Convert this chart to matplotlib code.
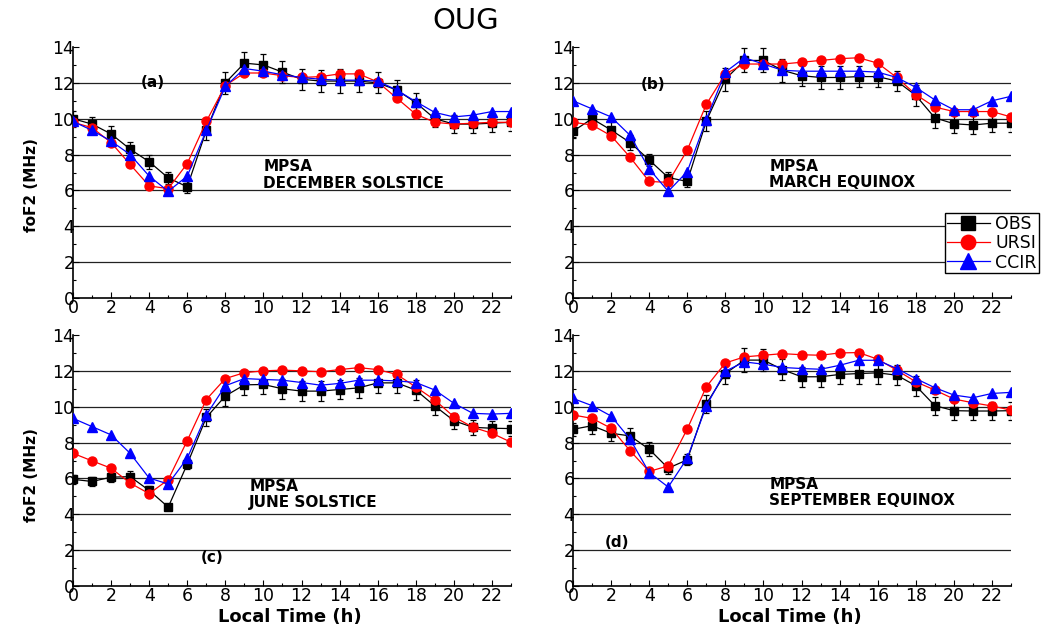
import numpy as np
import matplotlib
matplotlib.use("Agg")
import matplotlib.pyplot as plt
from matplotlib.ticker import MultipleLocator

plt.rcParams["font.family"] = ["DejaVu Sans"]

hours = list(range(24))

# panel (a) December solstice
dec_obs = [10.0, 9.7, 9.15, 8.3, 7.6, 6.7, 6.2, 9.35, 12.0, 13.1, 13.0, 12.6,
           12.2, 12.1, 12.1, 12.1, 12.0, 11.6, 10.9, 10.0, 9.7, 9.7, 9.75, 9.8]
dec_err = [0.45, 0.4, 0.45, 0.4, 0.4, 0.35, 0.35, 0.55, 0.6, 0.63, 0.62, 0.63,
           0.6, 0.63, 0.65, 0.63, 0.58, 0.58, 0.55, 0.45, 0.48, 0.47, 0.5, 0.47]
dec_ursi = [9.8, 9.5, 8.67, 7.45, 6.25, 6.1, 7.5, 9.85, 11.85, 12.55, 12.55, 12.4,
            12.3, 12.35, 12.5, 12.5, 12.05, 11.15, 10.25, 9.8, 9.7, 9.75, 9.8, 9.8]
dec_ccir = [9.85, 9.35, 8.75, 8.0, 6.8, 5.95, 6.8, 9.35, 11.8, 12.8, 12.65, 12.45,
            12.3, 12.2, 12.15, 12.15, 12.1, 11.6, 10.95, 10.35, 10.1, 10.2, 10.4, 10.4]

# panel (b) March equinox
mar_obs = [9.3, 10.0, 9.37, 8.67, 7.7, 6.72, 6.5, 9.87, 12.2, 13.25, 13.25, 12.7,
           12.4, 12.3, 12.3, 12.35, 12.35, 12.1, 11.3, 10.05, 9.72, 9.65, 9.75, 9.75]
mar_err = [0.35, 0.4, 0.45, 0.4, 0.35, 0.3, 0.3, 0.55, 0.65, 0.67, 0.67, 0.65,
           0.6, 0.63, 0.63, 0.6, 0.6, 0.58, 0.58, 0.55, 0.5, 0.5, 0.5, 0.48]
mar_ursi = [9.8, 9.65, 9.05, 7.85, 6.5, 6.45, 8.25, 10.8, 12.5, 13.05, 13.05, 13.05,
            13.15, 13.25, 13.35, 13.4, 13.1, 12.3, 11.35, 10.65, 10.4, 10.4, 10.4, 10.1]
mar_ccir = [11.0, 10.55, 10.1, 9.07, 7.2, 5.95, 7.05, 9.95, 12.6, 13.4, 13.05, 12.7,
            12.65, 12.65, 12.65, 12.65, 12.6, 12.3, 11.75, 11.05, 10.5, 10.5, 11.0, 11.25]

# panel (c) June solstice
jun_obs = [5.95, 5.83, 6.07, 6.1, 5.33, 4.4, 6.8, 9.4, 10.6, 11.22, 11.24, 11.0,
           10.87, 10.87, 10.96, 11.05, 11.33, 11.33, 10.93, 10.04, 9.22, 8.85, 8.8, 8.78]
jun_err = [0.25, 0.25, 0.25, 0.3, 0.25, 0.15, 0.3, 0.5, 0.55, 0.55, 0.55, 0.55,
           0.55, 0.55, 0.55, 0.55, 0.55, 0.55, 0.55, 0.5, 0.45, 0.4, 0.4, 0.4]
jun_ursi = [7.4, 6.98, 6.57, 5.74, 5.15, 5.93, 8.11, 10.4, 11.57, 11.9, 12.0, 12.04,
            12.0, 11.95, 12.07, 12.18, 12.07, 11.8, 11.1, 10.37, 9.44, 8.85, 8.52, 8.02]
jun_ccir = [9.35, 8.89, 8.43, 7.4, 6.02, 5.69, 7.13, 9.54, 11.17, 11.57, 11.52, 11.48,
            11.35, 11.2, 11.3, 11.48, 11.48, 11.44, 11.35, 10.93, 10.19, 9.63, 9.59, 9.63]

# panel (d) September equinox
sep_obs = [8.74, 8.94, 8.52, 8.37, 7.63, 6.57, 7.04, 10.15, 11.85, 12.6, 12.6, 12.07,
           11.67, 11.67, 11.8, 11.85, 11.89, 11.76, 11.17, 10.06, 9.78, 9.76, 9.76, 9.78]
sep_err = [0.35, 0.45, 0.45, 0.45, 0.4, 0.3, 0.3, 0.5, 0.6, 0.65, 0.6, 0.6,
           0.55, 0.55, 0.55, 0.6, 0.6, 0.55, 0.55, 0.5, 0.5, 0.5, 0.5, 0.5]
sep_ursi = [9.54, 9.35, 8.8, 7.54, 6.39, 6.7, 8.76, 11.11, 12.44, 12.78, 12.87, 12.96,
            12.9, 12.87, 13.0, 13.02, 12.65, 12.04, 11.39, 10.93, 10.43, 10.22, 10.04, 9.81]
sep_ccir = [10.46, 10.06, 9.48, 8.19, 6.33, 5.52, 7.13, 10.04, 11.98, 12.5, 12.37, 12.19,
            12.13, 12.09, 12.31, 12.59, 12.59, 12.13, 11.57, 11.06, 10.65, 10.5, 10.74, 10.8]

panels = [
    ("(a)", "MPSA\nDECEMBER SOLSTICE", dec_obs, dec_err, dec_ursi, dec_ccir),
    ("(b)", "MPSA\nMARCH EQUINOX", mar_obs, mar_err, mar_ursi, mar_ccir),
    ("(c)", "MPSA\nJUNE SOLSTICE", jun_obs, jun_err, jun_ursi, jun_ccir),
    ("(d)", "MPSA\nSEPTEMBER EQUINOX", sep_obs, sep_err, sep_ursi, sep_ccir),
]
# where the panel letter and season text sit (data coords)
letter_pos = [(4.2, 12.0), (4.2, 11.9), (7.3, 1.6), (2.3, 2.4)]
season_pos = [(10.0, 6.85), (10.3, 6.9), (9.25, 5.1), (10.3, 5.2)]

W, H = 1044, 630
fig = plt.figure(figsize=(W / 100, H / 100), dpi=100)

# axes boxes in pixels: left, right, top (y=14), bottom (y=0)
boxes = [(73, 511, 47, 298), (573, 1011, 47, 298),
         (73, 511, 335, 586), (573, 1011, 335, 586)]

axes = []
handles = []
for (l, r, t, b), (letter, season, obs, err, ursi, ccir), lp, sp in zip(
        boxes, panels, letter_pos, season_pos):
    ax = fig.add_axes([l / W, 1 - b / H, (r - l) / W, (b - t) / H])
    axes.append(ax)
    for yv in range(2, 14, 2):
        ax.axhline(yv, color="#222222", lw=0.9, zorder=0)
    ax.errorbar(hours, obs, yerr=err, fmt="none", ecolor="black",
                elinewidth=0.9, capsize=2.5, capthick=0.9, zorder=3)
    h1, = ax.plot(hours, obs, color="black", marker="s", ms=6, lw=0.9,
                  label="OBS", zorder=3)
    h2, = ax.plot(hours, ursi, color="red", marker="o", ms=6.5, lw=0.9,
                  label="URSI", zorder=4)
    h3, = ax.plot(hours, ccir, color="blue", marker="^", ms=7, lw=0.9,
                  label="CCIR", zorder=5)
    handles = [h1, h2, h3]
    ax.set_xlim(0, 23)
    ax.set_ylim(0, 14)
    ax.xaxis.set_major_locator(MultipleLocator(2))
    ax.xaxis.set_minor_locator(MultipleLocator(1))
    ax.yaxis.set_major_locator(MultipleLocator(2))
    ax.yaxis.set_minor_locator(MultipleLocator(1))
    ax.tick_params(which="both", direction="in", labelsize=12.5)
    ax.tick_params(which="major", length=4, width=0.8)
    ax.tick_params(which="minor", length=2, width=0.8)
    ax.tick_params(axis="y", pad=-1)
    ax.tick_params(axis="x", pad=1)
    for s in ("top", "right"):
        ax.spines[s].set_visible(False)
    ax.spines["left"].set_linewidth(1.2)
    ax.spines["bottom"].set_linewidth(1.2)
    ax.text(lp[0], lp[1], letter, fontsize=11, fontweight="bold",
            ha="center", va="center")
    ax.text(sp[0], sp[1], season, fontsize=11, fontweight="bold",
            ha="left", va="center", linespacing=1.12)

fig.text(466 / W, 1 - 21 / H, "OUG", fontsize=21, ha="center", va="center")
for yc in (185, 475):
    fig.text(32 / W, 1 - yc / H, "foF2 (MHz)", fontsize=11, fontweight="bold",
             rotation=90, ha="center", va="center")
for xc in (290, 790):
    fig.text(xc / W, 1 - 617 / H, "Local Time (h)", fontsize=13,
             fontweight="bold", ha="center", va="center")

fig.legend(handles, ["OBS", "URSI", "CCIR"], loc="upper left",
           bbox_to_anchor=(945 / W, 1 - 213 / H), fontsize=12.5,
           frameon=True, fancybox=False, edgecolor="black", framealpha=1,
           handlelength=2.5, handletextpad=0.3, borderpad=0.1,
           labelspacing=0.08, borderaxespad=0, markerscale=1.6)

fig.savefig("out.png", dpi=100)
